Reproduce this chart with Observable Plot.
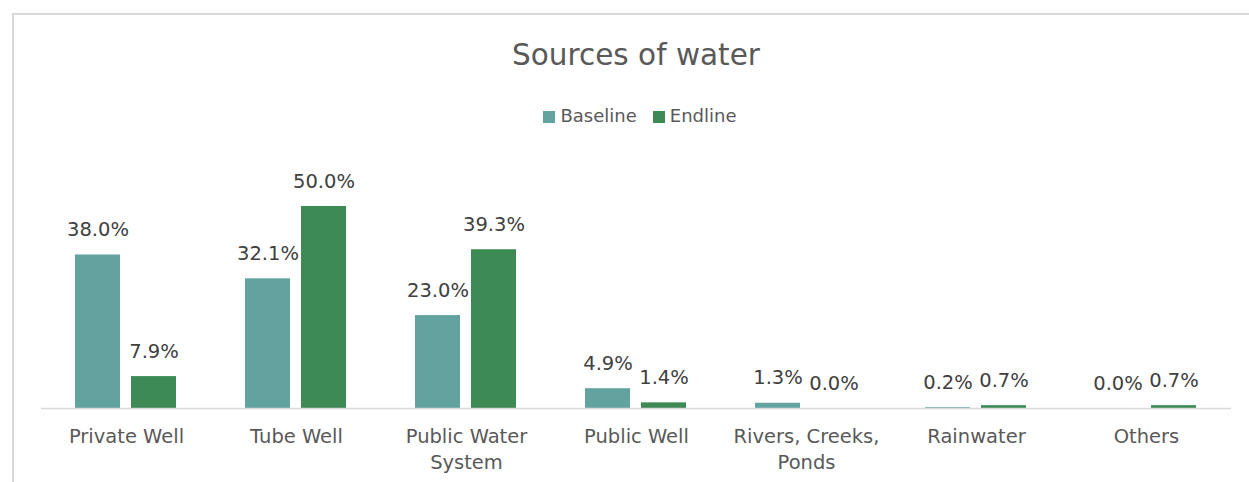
<!DOCTYPE html>
<html>
<head>
<meta charset="utf-8">
<script src="https://cdn.jsdelivr.net/npm/d3@7"></script>
<script src="https://cdn.jsdelivr.net/npm/@observablehq/plot@0.6"></script>
<style>
  html, body { margin: 0; padding: 0; background: #fff; }
  body { width: 1249px; height: 482px; position: relative; overflow: hidden; font-family: "DejaVu Sans", sans-serif; }
  #frame { position: absolute; left: 12px; top: 13px; width: 1250px; height: 500px; border: 2px solid #d9d9d9; box-sizing: border-box; }
  #title { position: absolute; left: 0; width: 1272px; top: 35px; text-align: center; font-size: 29.5px; color: #595959; line-height: 40px; }
  #legend { position: absolute; left: 0; width: 1280px; top: 104px; text-align: center; font-size: 18px; color: #595959; line-height: 24px; }
  .sw { display: inline-block; width: 12px; height: 12px; margin-right: 5px; vertical-align: -1px; }
  .item { display: inline-block; margin: 0 8px; }
  #chart { position: absolute; left: 0; top: 0; }
</style>
</head>
<body>
<div id="frame"></div>
<div id="title">Sources of water</div>
<div id="legend"></div>
<div id="chart"></div>
<script>
const categories = ["Private Well", "Tube Well", "Public Water System", "Public Well", "Rivers, Creeks, Ponds", "Rainwater", "Others"];
const tickLabels = ["Private Well", "Tube Well", "Public Water\nSystem", "Public Well", "Rivers, Creeks,\nPonds", "Rainwater", "Others"];
const seriesNames = ["Baseline", "Endline"];
const seriesColors = ["#62A39F", "#3E8A55"];
const baseline = [38.0, 32.1, 23.0, 4.9, 1.3, 0.2, 0.0];
const endline = [7.9, 50.0, 39.3, 1.4, 0.0, 0.7, 0.7];

const data = [];
categories.forEach((c, i) => {
  data.push({category: c, series: "Baseline", value: baseline[i]});
  data.push({category: c, series: "Endline", value: endline[i]});
});

// legend
const legend = document.getElementById("legend");
seriesNames.forEach((s, i) => {
  const it = document.createElement("span");
  it.className = "item";
  it.innerHTML = `<span class="sw" style="background:${seriesColors[i]}"></span>${s}`;
  legend.appendChild(it);
});

const chart = Plot.plot({
  width: 1249,
  height: 482,
  marginTop: 165.6,
  marginBottom: 74,
  marginLeft: 41,
  marginRight: 18,
  style: {fontFamily: "DejaVu Sans, sans-serif", fontSize: "17px", background: "transparent", overflow: "visible"},
  fx: {domain: categories, padding: 0, label: null},
  x: {domain: seriesNames, paddingInner: 0.19, paddingOuter: 0.588, axis: null},
  y: {domain: [0, 60], axis: null},
  color: {domain: seriesNames, range: seriesColors},
  marks: [
    Plot.barY(data, {fx: "category", x: "series", y: "value", fill: "series"}),
    Plot.ruleY([0], {stroke: "#d9d9d9", strokeWidth: 1.5}),
    Plot.text(data, {fx: "category", x: "series", y: "value", text: d => d.value.toFixed(1) + "%", dy: -25, fill: "#404040", fontSize: 19.5}),
    Plot.axisFx({anchor: "bottom", tickSize: 0, tickPadding: 16, label: null, tickFormat: (d) => tickLabels[categories.indexOf(d)], fill: "#595959", fontSize: 19.5, lineHeight: 1.33})
  ]
});
document.getElementById("chart").appendChild(chart);
</script>
</body>
</html>
